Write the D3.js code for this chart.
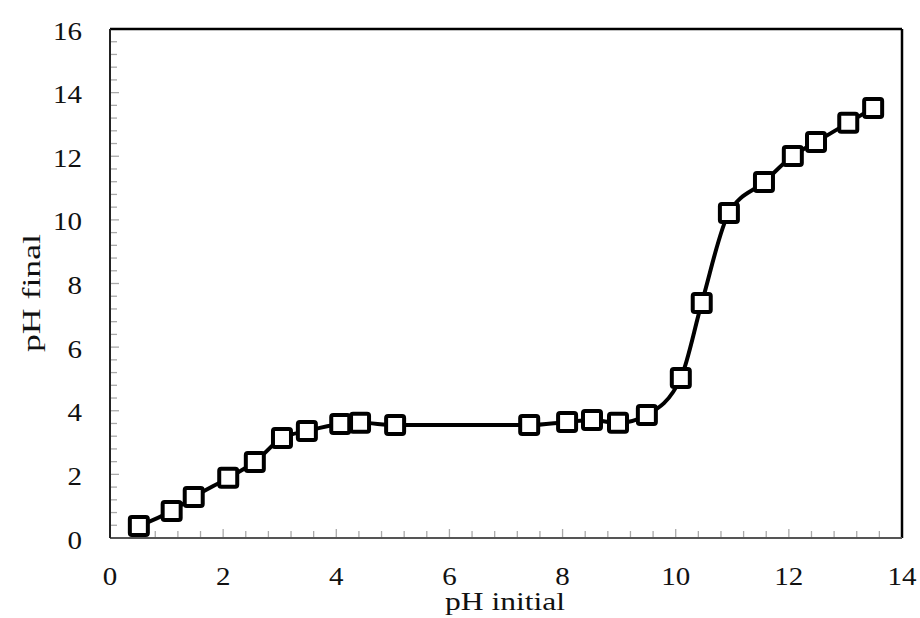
<!DOCTYPE html>
<html>
<head>
<meta charset="utf-8">
<script src="https://cdn.jsdelivr.net/npm/d3@7"></script>
<style>
html,body{margin:0;padding:0;background:#fff;}
svg{display:block;}
</style>
</head>
<body>
<svg id="chart" width="920" height="618"></svg>
<script>
const phInitial = [0.51,1.09,1.48,2.09,2.56,3.04,3.48,4.07,4.42,5.04,7.41,8.08,8.52,8.98,9.49,10.09,10.46,10.94,11.56,12.07,12.48,13.05,13.49];
const phFinal   = [0.38,0.85,1.29,1.89,2.39,3.14,3.36,3.58,3.62,3.55,3.55,3.65,3.71,3.62,3.87,5.03,7.39,10.22,11.19,12.01,12.45,13.05,13.52];
const xTicks = [0,2,4,6,8,10,12,14];
const yTicks = [0,2,4,6,8,10,12,14,16];
const xLabel = "pH initial";
const yLabel = "pH final";

const FONT = "'Liberation Serif', 'Times New Roman', Times, serif";
const svg = d3.select("#chart");
const x = d3.scaleLinear().domain([0,14]).range([110, 902]);
const y = d3.scaleLinear().domain([0,16]).range([538, 29]);

// minor ticks (every 0.4)
const minorX = d3.range(0, 14.001, 0.4);
const minorY = d3.range(0, 16.001, 0.4);
const isMajor = d => Math.abs(d/2-Math.round(d/2))<1e-6;
const g = svg.append("g");
g.selectAll(".mx").data(minorX).enter().append("line")
  .attr("x1", d=>x(d)).attr("x2", d=>x(d))
  .attr("y1", y(0)).attr("y2", d=> isMajor(d) ? y(0)-9 : y(0)-7)
  .attr("stroke","#aaa").attr("stroke-width",1.3);
g.selectAll(".my").data(minorY).enter().append("line")
  .attr("y1", d=>y(d)).attr("y2", d=>y(d))
  .attr("x1", x(0)).attr("x2", d=> isMajor(d) ? x(0)+9 : x(0)+7)
  .attr("stroke","#aaa").attr("stroke-width",1.3);

// frame
svg.append("line").attr("x1",x(0)).attr("x2",x(14)).attr("y1",y(16)).attr("y2",y(16)).attr("stroke","#000").attr("stroke-width",2.5);
svg.append("line").attr("x1",x(14)).attr("x2",x(14)).attr("y1",y(16)).attr("y2",y(0)).attr("stroke","#000").attr("stroke-width",2.5);
svg.append("line").attr("x1",x(0)).attr("x2",x(14)).attr("y1",y(0)).attr("y2",y(0)).attr("stroke","#555").attr("stroke-width",2);
svg.append("line").attr("x1",x(0)).attr("x2",x(0)).attr("y1",y(16)).attr("y2",y(0)).attr("stroke","#222").attr("stroke-width",2);

const digitW = 14.5;
// tick labels
svg.selectAll(".xt").data(xTicks).enter().append("text")
  .attr("x", d=>x(d)).attr("y", 585).attr("text-anchor","middle")
  .attr("font-family",FONT).attr("fill","#111").attr("font-size",25)
  .attr("textLength", d=>String(d).length*digitW).attr("lengthAdjust","spacingAndGlyphs")
  .text(d=>d);
svg.selectAll(".yt").data(yTicks).enter().append("text")
  .attr("x", 82).attr("y", d=>y(d)+10.5).attr("text-anchor","end")
  .attr("font-family",FONT).attr("fill","#111").attr("font-size",25)
  .attr("textLength", d=>String(d).length*digitW).attr("lengthAdjust","spacingAndGlyphs")
  .text(d=>d);

// axis titles
svg.append("text").attr("x", 505).attr("y", 610).attr("text-anchor","middle")
  .attr("font-family",FONT).attr("fill","#111").attr("font-size",25)
  .attr("textLength",120).attr("lengthAdjust","spacingAndGlyphs")
  .text(xLabel);
svg.append("text").attr("transform","translate(40,293) rotate(-90)")
  .attr("font-family",FONT).attr("fill","#111").attr("font-size",25)
  .attr("text-anchor","middle")
  .attr("textLength",118).attr("lengthAdjust","spacingAndGlyphs")
  .text(yLabel);

// line
const pts = phInitial.map((v,i)=>[v, phFinal[i]]);
const line = d3.line().x(d=>x(d[0])).y(d=>y(d[1])).curve(d3.curveMonotoneX);
svg.append("path").datum(pts).attr("d", line).attr("fill","none")
  .attr("stroke","#000").attr("stroke-width",4);

// markers
const s = 18;
svg.selectAll(".mk").data(pts).enter().append("rect")
  .attr("x", d=>x(d[0])-s/2).attr("y", d=>y(d[1])-s/2)
  .attr("width", s).attr("height", s).attr("rx",2)
  .attr("fill","#fff").attr("stroke","#000").attr("stroke-width",4);
</script>
</body>
</html>
